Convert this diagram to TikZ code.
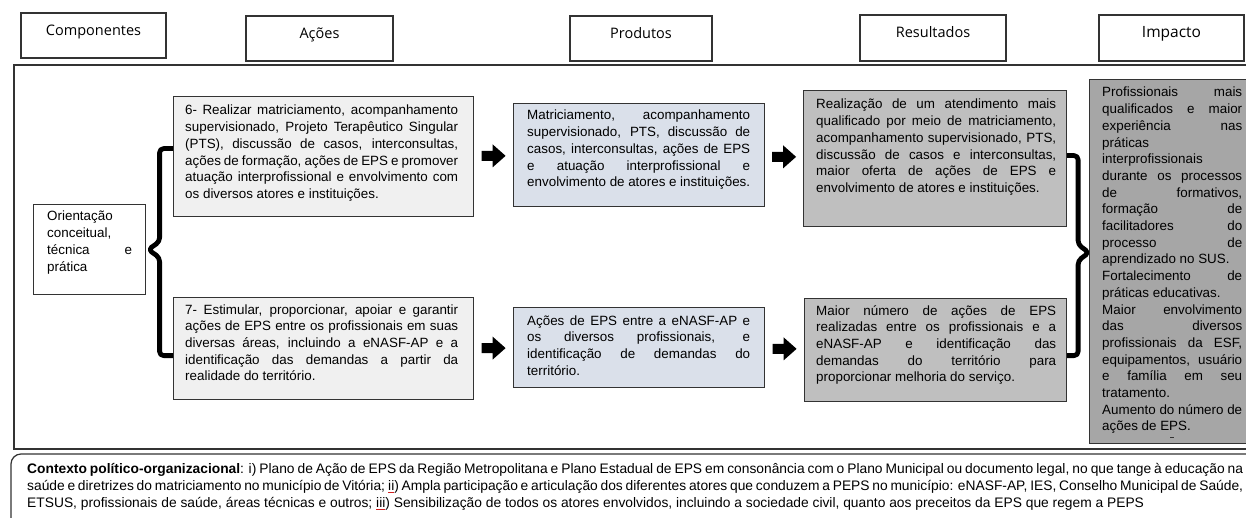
\documentclass[tikz,border=0pt]{standalone}
\usepackage{fontspec}
\setmainfont{Liberation Sans}
\newfontfamily\headfont{Open Sans}
\usetikzlibrary{calc}

\definecolor{edge}{HTML}{333333}
\definecolor{actfill}{HTML}{F0F0F0}
\definecolor{prodfill}{HTML}{DAE0EA}
\definecolor{resfill}{HTML}{BFBFBF}
\definecolor{impfill}{HTML}{A6A6A6}
\definecolor{spell}{HTML}{D02020}

% a justified line: interword spaces stretched to the full column width
\newcommand\J[1]{\makebox[\linewidth][s]{#1}}
% a column of body text whose baseline is that of its first line
\newcommand\bodytext[2]{\parbox[t]{#1}{\fontsize{13.4pt}{16.7pt}\selectfont #2}}
% red spell-check underline
\newcommand\spellmark[1]{\setbox0\hbox{#1}\rlap{\textcolor{spell}{\rule[-3pt]{\wd0}{0.9pt}}}\box0}

\tikzset{
  blockarrow/.pic={\fill[black] (-12,-5) -- (-1,-5) -- (-1,-11.5) -- (12,0) -- (-1,11.5) -- (-1,5) -- (-12,5) -- cycle;}
}

\begin{document}
\begin{tikzpicture}[x=1pt,y=-1pt,
  header/.style={draw=edge, line width=1.2pt, fill=white, inner sep=0pt,
    text height=5pt, text depth=5pt, font=\headfont\fontsize{14.5pt}{17pt}\selectfont},
  panel/.style={draw=edge, line width=1.2pt, inner sep=0pt, anchor=north west},
  body/.style={inner sep=0pt, anchor=base west},
  brace/.style={line width=4.8pt, line join=round, rounded corners=4pt},
  frame/.style={draw=edge, line width=1.2pt}]

\useasboundingbox (0,0) rectangle (1246,518);
\clip (0,0) rectangle (1246,518);
\fill[white] (0,0) rectangle (1246,518);

% outer frame and the context panel below it
\draw[frame] (14,65) rectangle (1275,449);
\draw[frame, rounded corners=10pt] (11,540) -- (11,454) -- (1275,454);

% column headers
\node[header, minimum width=145pt, minimum height=45pt] (hcomp) at (93.5,35.5) {Componentes};
\node[header, minimum width=147pt, minimum height=45pt] (hacoes) at (319.5,38.5) {Ações};
\node[header, minimum width=142pt, minimum height=45pt] (hprod) at (641,38.5) {Produtos};
\node[header, minimum width=146pt, minimum height=46pt] (hres) at (933,38) {Resultados};
\node[header, minimum width=145pt, minimum height=46pt, font=\headfont\fontsize{15.5pt}{18pt}\selectfont] (himp) at (1171.5,38) {Impacto};

% panels
\node[panel, fill=white, minimum width=112pt, minimum height=90pt] (orient) at (33,204) {};
\node[panel, fill=actfill, minimum width=300pt, minimum height=120pt] (a6) at (173,96) {};
\node[panel, fill=actfill, minimum width=300pt, minimum height=102pt] (a7) at (173,297) {};
\node[panel, fill=prodfill, minimum width=251pt, minimum height=103pt] (p1) at (513,103) {};
\node[panel, fill=prodfill, minimum width=251pt, minimum height=80pt] (p2) at (513,307) {};
\node[panel, fill=resfill, minimum width=263pt, minimum height=136pt] (r1) at (803,90) {};
\node[panel, fill=resfill, minimum width=262pt, minimum height=103pt] (r2) at (804,298) {};
\node[panel, fill=impfill, minimum width=190pt, minimum height=364pt] (imp) at (1089,79) {};

% braces
\coordinate (lspine) at ($(orient.east)!0.5!(a6.west |- orient.east)$);
\draw[brace] ([yshift=8pt]a6.west) -| ([yshift=8pt]lspine) -- ([xshift=2pt]orient.east)
  -- ([yshift=-8pt]lspine) |- ([yshift=-7pt]a7.west);
\coordinate (rtip) at ([yshift=9pt]imp.west);
\coordinate (rspine) at ($(r1.east |- rtip)!0.5!(rtip)$);
\draw[brace] ([yshift=3pt]r1.east) -| ([yshift=8pt]rspine) -- (rtip)
  -- ([yshift=-8pt]rspine) |- ([yshift=-5.5pt]r2.east);

% block arrows between the columns
\pic at ($(a6.east)!0.5!(p1.west)$) {blockarrow};
\pic at ($(a7.east)!0.5!(p2.west)$) {blockarrow};
\pic at ($(p1.east)!0.5!(r1.west)$) {blockarrow};
\pic at ($(p2.east)!0.5!(r2.west)$) {blockarrow};

% panel texts
\node[body] (torient) at (47,221) {\bodytext{85pt}{Orientação\\ conceitual,\\ \J{técnica e}\\ prática}};

\node[body] (ta6) at (185,115) {\bodytext{273pt}{%
\J{6- Realizar matriciamento, acompanhamento}\\
\J{supervisionado, Projeto Terapêutico Singular}\\
\J{(PTS), discussão de casos, interconsultas,}\\
\J{ações de formação, ações de EPS e promover}\\
\J{atuação interprofissional e envolvimento com}\\
os diversos atores e instituições.}};

\node[body] (ta7) at (185,314) {\bodytext{273pt}{%
\J{7- Estimular, proporcionar, apoiar e garantir}\\
\J{ações de EPS entre os profissionais em suas}\\
\J{diversas áreas, incluindo a eNASF-AP e a}\\
\J{identificação das demandas a partir da}\\
realidade do território.}};

\node[body] (tp1) at (527,120) {\bodytext{223pt}{%
\J{Matriciamento, acompanhamento}\\
\J{supervisionado, PTS, discussão de}\\
\J{casos, interconsultas, ações de EPS}\\
\J{e atuação interprofissional e}\\
envolvimento de atores e instituições.}};

\node[body] (tp2) at (527,325) {\bodytext{223pt}{%
\J{Ações de EPS entre a eNASF-AP e}\\
\J{os diversos profissionais, e}\\
\J{identificação de demandas do}\\
território.}};

\node[body] (tr1) at (816,109) {\bodytext{240pt}{%
\J{Realização de um atendimento mais}\\
\J{qualificado por meio de matriciamento,}\\
\J{acompanhamento supervisionado, PTS,}\\
\J{discussão de casos e interconsultas,}\\
\J{maior oferta de ações de EPS e}\\
envolvimento de atores e instituições.}};

\node[body] (tr2) at (816,315) {\bodytext{240pt}{%
\J{Maior número de ações de EPS}\\
\J{realizadas entre os profissionais e a}\\
\J{eNASF-AP e identificação das}\\
\J{demandas do território para}\\
proporcionar melhoria do serviço.}};

\node[body] (timp) at (1102,97) {\bodytext{140pt}{%
\J{Profissionais mais}\\
\J{qualificados e maior}\\
\J{experiência nas}\\
práticas\\
interprofissionais\\
\J{durante os processos}\\
\J{de formativos,}\\
\J{formação de}\\
\J{facilitadores do}\\
\J{processo de}\\
aprendizado no SUS.\\
\J{Fortalecimento de}\\
práticas educativas.\\
\J{Maior envolvimento}\\
\J{das diversos}\\
\J{profissionais da ESF,}\\
\J{equipamentos, usuário}\\
\J{e família em seu}\\
tratamento.\\
\J{Aumento do número de}\\
ações de EPS.}};
\fill[edge] (1170,436.5) rectangle (1174,437.6);

% context text
\node[body] (tctx) at (27,473) {\parbox[t]{1216pt}{\fontsize{13.8pt}{17pt}\selectfont
\J{\textbf{Contexto político-organizacional}: i) Plano de Ação de EPS da Região Metropolitana e Plano Estadual de EPS em consonância com o Plano Municipal ou documento legal, no que tange à educação na}\\
\J{saúde e diretrizes do matriciamento no município de Vitória; \spellmark{ii}) Ampla participação e articulação dos diferentes atores que conduzem a PEPS no município: eNASF-AP, IES, Conselho Municipal de Saúde,}\\
ETSUS, profissionais de saúde, áreas técnicas e outros; \spellmark{iii}) Sensibilização de todos os atores envolvidos, incluindo a sociedade civil, quanto aos preceitos da EPS que regem a PEPS}};

\end{tikzpicture}
\end{document}
